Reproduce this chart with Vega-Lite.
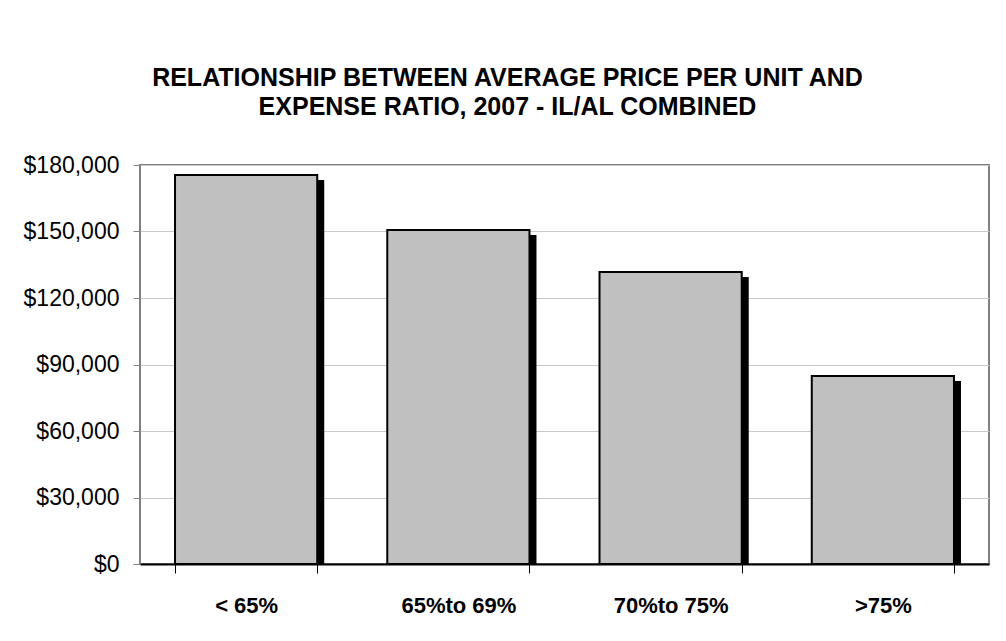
{
  "$schema": "https://vega.github.io/schema/vega-lite/v6.json",
  "autosize": "none",
  "width": 849,
  "height": 399,
  "padding": {"left": 140, "top": 165, "right": 17, "bottom": 77},
  "background": "white",
  "title": {
    "text": ["RELATIONSHIP BETWEEN AVERAGE PRICE PER UNIT AND", "EXPENSE RATIO, 2007 - IL/AL COMBINED"],
    "font": "Liberation Sans, Arial, sans-serif",
    "fontSize": 25,
    "fontWeight": "bold",
    "color": "black",
    "lineHeight": 29,
    "anchor": "middle",
    "frame": "group",
    "dx": -57,
    "offset": 34
  },
  "data": {
    "values": [
      {"ratio": "< 65%", "price": 175500},
      {"ratio": "65%to 69%", "price": 150700},
      {"ratio": "70%to 75%", "price": 131700},
      {"ratio": ">75%", "price": 84800}
    ]
  },
  "encoding": {
    "x": {
      "field": "ratio",
      "type": "nominal",
      "sort": null,
      "title": null,
      "scale": {"paddingInner": 0.33, "paddingOuter": 0.165},
      "axis": {
        "labelAngle": 0,
        "labelFont": "Liberation Sans, Arial, sans-serif",
        "labelFontSize": 22,
        "labelFontWeight": "bold",
        "labelColor": "black",
        "labelPadding": 22,
        "tickBand": "extent",
        "tickSize": 9,
        "tickColor": "black",
        "tickWidth": 1,
        "domainColor": "black",
        "domainWidth": 2,
        "grid": false
      }
    },
    "y": {
      "field": "price",
      "type": "quantitative",
      "title": null,
      "scale": {"domain": [0, 180000], "nice": false},
      "axis": {
        "values": [0, 30000, 60000, 90000, 120000, 150000, 180000],
        "format": "$,.0f",
        "labelFont": "Liberation Sans, Arial, sans-serif",
        "labelFontSize": 23,
        "labelColor": "black",
        "labelPadding": 14,
        "tickSize": 7,
        "tickColor": "#808080",
        "domain": false,
        "grid": true,
        "gridColor": "#c8c8c8",
        "gridWidth": 1
      }
    }
  },
  "layer": [
    {
      "mark": {"type": "bar", "color": "black", "xOffset": 7, "yOffset": 5, "clip": true}
    },
    {
      "mark": {"type": "bar", "color": "#c0c0c0", "stroke": "black", "strokeWidth": 2}
    }
  ],
  "config": {
    "view": {"stroke": "#808080", "strokeWidth": 2},
    "font": "Liberation Sans, Arial, sans-serif"
  }
}
